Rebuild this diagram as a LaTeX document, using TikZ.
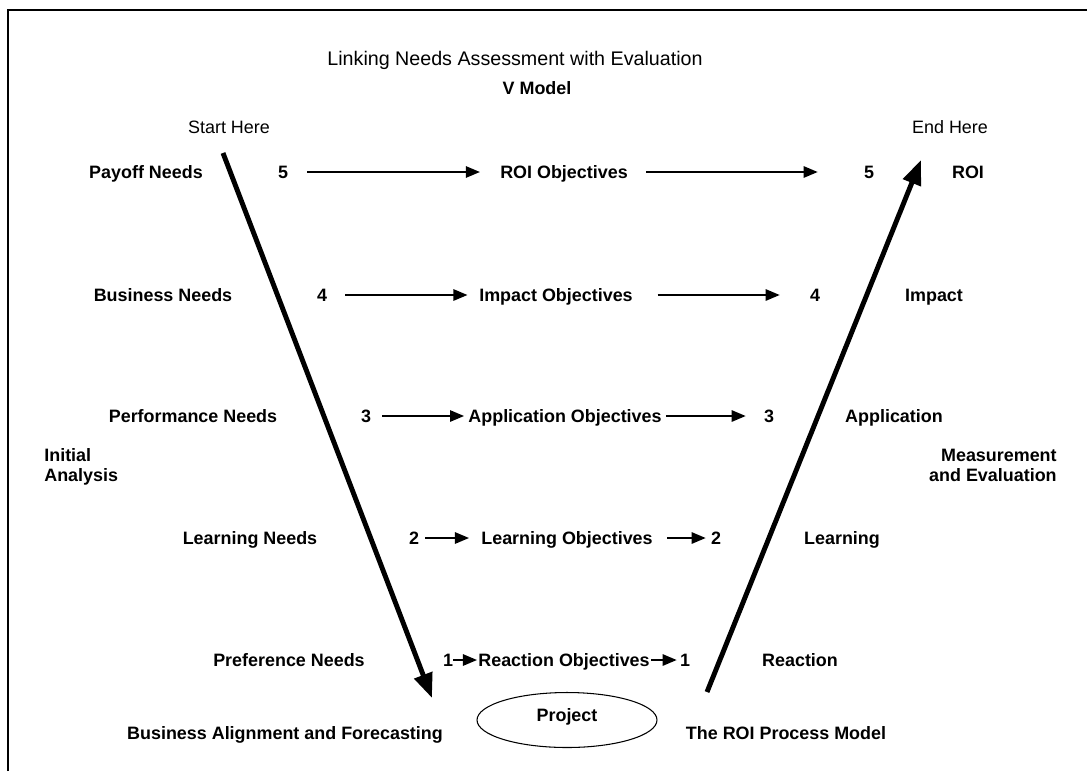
\documentclass[tikz,border=0pt]{standalone}
\usepackage{fontspec}
\setmainfont{Liberation Sans}
\usepackage{tikz}
\usetikzlibrary{shapes.geometric, arrows.meta}
\tikzstyle{boldtext} = [inner sep=0pt, text height=7.4pt, text depth=0pt, font=\fontsize{10.2}{11.4}\selectfont\bfseries]
\tikzstyle{normaltext} = [inner sep=0pt, text height=7.4pt, text depth=0pt, font=\fontsize{10.2}{11.4}\selectfont]
\tikzstyle{titletext} = [inner sep=0pt, text height=8pt, text depth=0pt, font=\fontsize{11.2}{13}\selectfont]
\tikzstyle{project} = [ellipse, draw=black, line width=0.6pt, minimum width=3.6cm, minimum height=1.1cm, inner sep=0pt, text height=7.4pt, text depth=6pt, font=\fontsize{10.2}{11.4}\selectfont\bfseries]
\tikzstyle{arrow} = [line width=0.9pt, -{Triangle[length=8pt, width=6.5pt]}]
\tikzstyle{varrow} = [line width=2.8pt, -{Triangle[length=14pt, width=10.5pt]}]

\begin{document}
\begin{tikzpicture}[x=0.02cm, y=-0.02cm]
			\useasboundingbox (0,0) rectangle (1087,771);
			\draw [line width=1pt] (8,771) -- (8,10) -- (1087,10);
			
			% headings
			\node (title) [titletext] at (515,58) {Linking Needs Assessment with Evaluation};
			\node (vmodel) [boldtext] at (537,88) {V Model};
			\node (start) [normaltext] at (229,127) {Start Here};
			\node (end) [normaltext] at (950,127) {End Here};
			
			% level 5
			\node (need5) [boldtext] at (146,172) {Payoff Needs};
			\node (num5a) [boldtext] at (283,172) {5};
			\node (obj5) [boldtext] at (564,172) {ROI Objectives};
			\node (num5b) [boldtext] at (869,172) {5};
			\node (eval5) [boldtext] at (968,172) {ROI};
			
			% level 4
			\node (need4) [boldtext] at (163,295) {Business Needs};
			\node (num4a) [boldtext] at (322,295) {4};
			\node (obj4) [boldtext] at (556,295) {Impact Objectives};
			\node (num4b) [boldtext] at (815,295) {4};
			\node (eval4) [boldtext] at (934,295) {Impact};
			
			% level 3
			\node (need3) [boldtext] at (193,416) {Performance Needs};
			\node (num3a) [boldtext] at (366,416) {3};
			\node (obj3) [boldtext] at (565,416) {Application Objectives};
			\node (num3b) [boldtext] at (769,416) {3};
			\node (eval3) [boldtext] at (894,416) {Application};
			
			% level 2
			\node (need2) [boldtext] at (250,538) {Learning Needs};
			\node (num2a) [boldtext] at (414,538) {2};
			\node (obj2) [boldtext] at (567,538) {Learning Objectives};
			\node (num2b) [boldtext] at (716,538) {2};
			\node (eval2) [boldtext] at (842,538) {Learning};
			
			% level 1
			\node (need1) [boldtext] at (289,660) {Preference Needs};
			\node (num1a) [boldtext] at (448,660) {1};
			\node (obj1) [boldtext] at (564,660) {Reaction Objectives};
			\node (num1b) [boldtext] at (685,660) {1};
			\node (eval1) [boldtext] at (800,660) {Reaction};
			
			% side and bottom captions
			\node (initial) [boldtext, text height=, anchor=west, align=left] at (44,465) {Initial\\Analysis};
			\node (measure) [boldtext, text height=, anchor=east, align=right] at (1057,465) {Measurement\\and Evaluation};
			\node (align) [boldtext] at (285,733) {Business Alignment and Forecasting};
			\node (process) [boldtext] at (786,733) {The ROI Process Model};
			\node (proj) [project] at (567,720) {Project};
			
			% the V
			\coordinate (vtopL) at (223,153);
			\coordinate (vbotL) at (432,698);
			\coordinate (vbotR) at (707,692);
			\coordinate (vtopR) at (921,160);
			\draw [varrow] (vtopL) -- (vbotL);
			\draw [varrow] (vbotR) -- (vtopR);
			
			\draw [arrow, shorten <=0.38cm, shorten >=0.4cm] (num5a) -- (obj5);
			\draw [arrow, shorten <=0.36cm, shorten >=0.92cm] (obj5) -- (num5b);
			\draw [arrow, shorten <=0.36cm, shorten >=0.23cm] (num4a) -- (obj4);
			\draw [arrow, shorten <=0.49cm, shorten >=0.6cm] (obj4) -- (num4b);
			\draw [arrow, shorten <=0.22cm, shorten >=0.08cm] (num3a) -- (obj3);
			\draw [arrow, shorten <=0.08cm, shorten >=0.36cm] (obj3) -- (num3b);
			\draw [arrow, shorten <=0.12cm, shorten >=0.24cm] (num2a) -- (obj2);
			\draw [arrow, shorten <=0.28cm, shorten >=0.1cm] (obj2) -- (num2b);
			\draw [arrow, shorten >=0.02cm] (num1a) -- (obj1);
			\draw [arrow, shorten <=0.02cm, shorten >=0.06cm] (obj1) -- (num1b);
			\end{tikzpicture}
\end{document}
